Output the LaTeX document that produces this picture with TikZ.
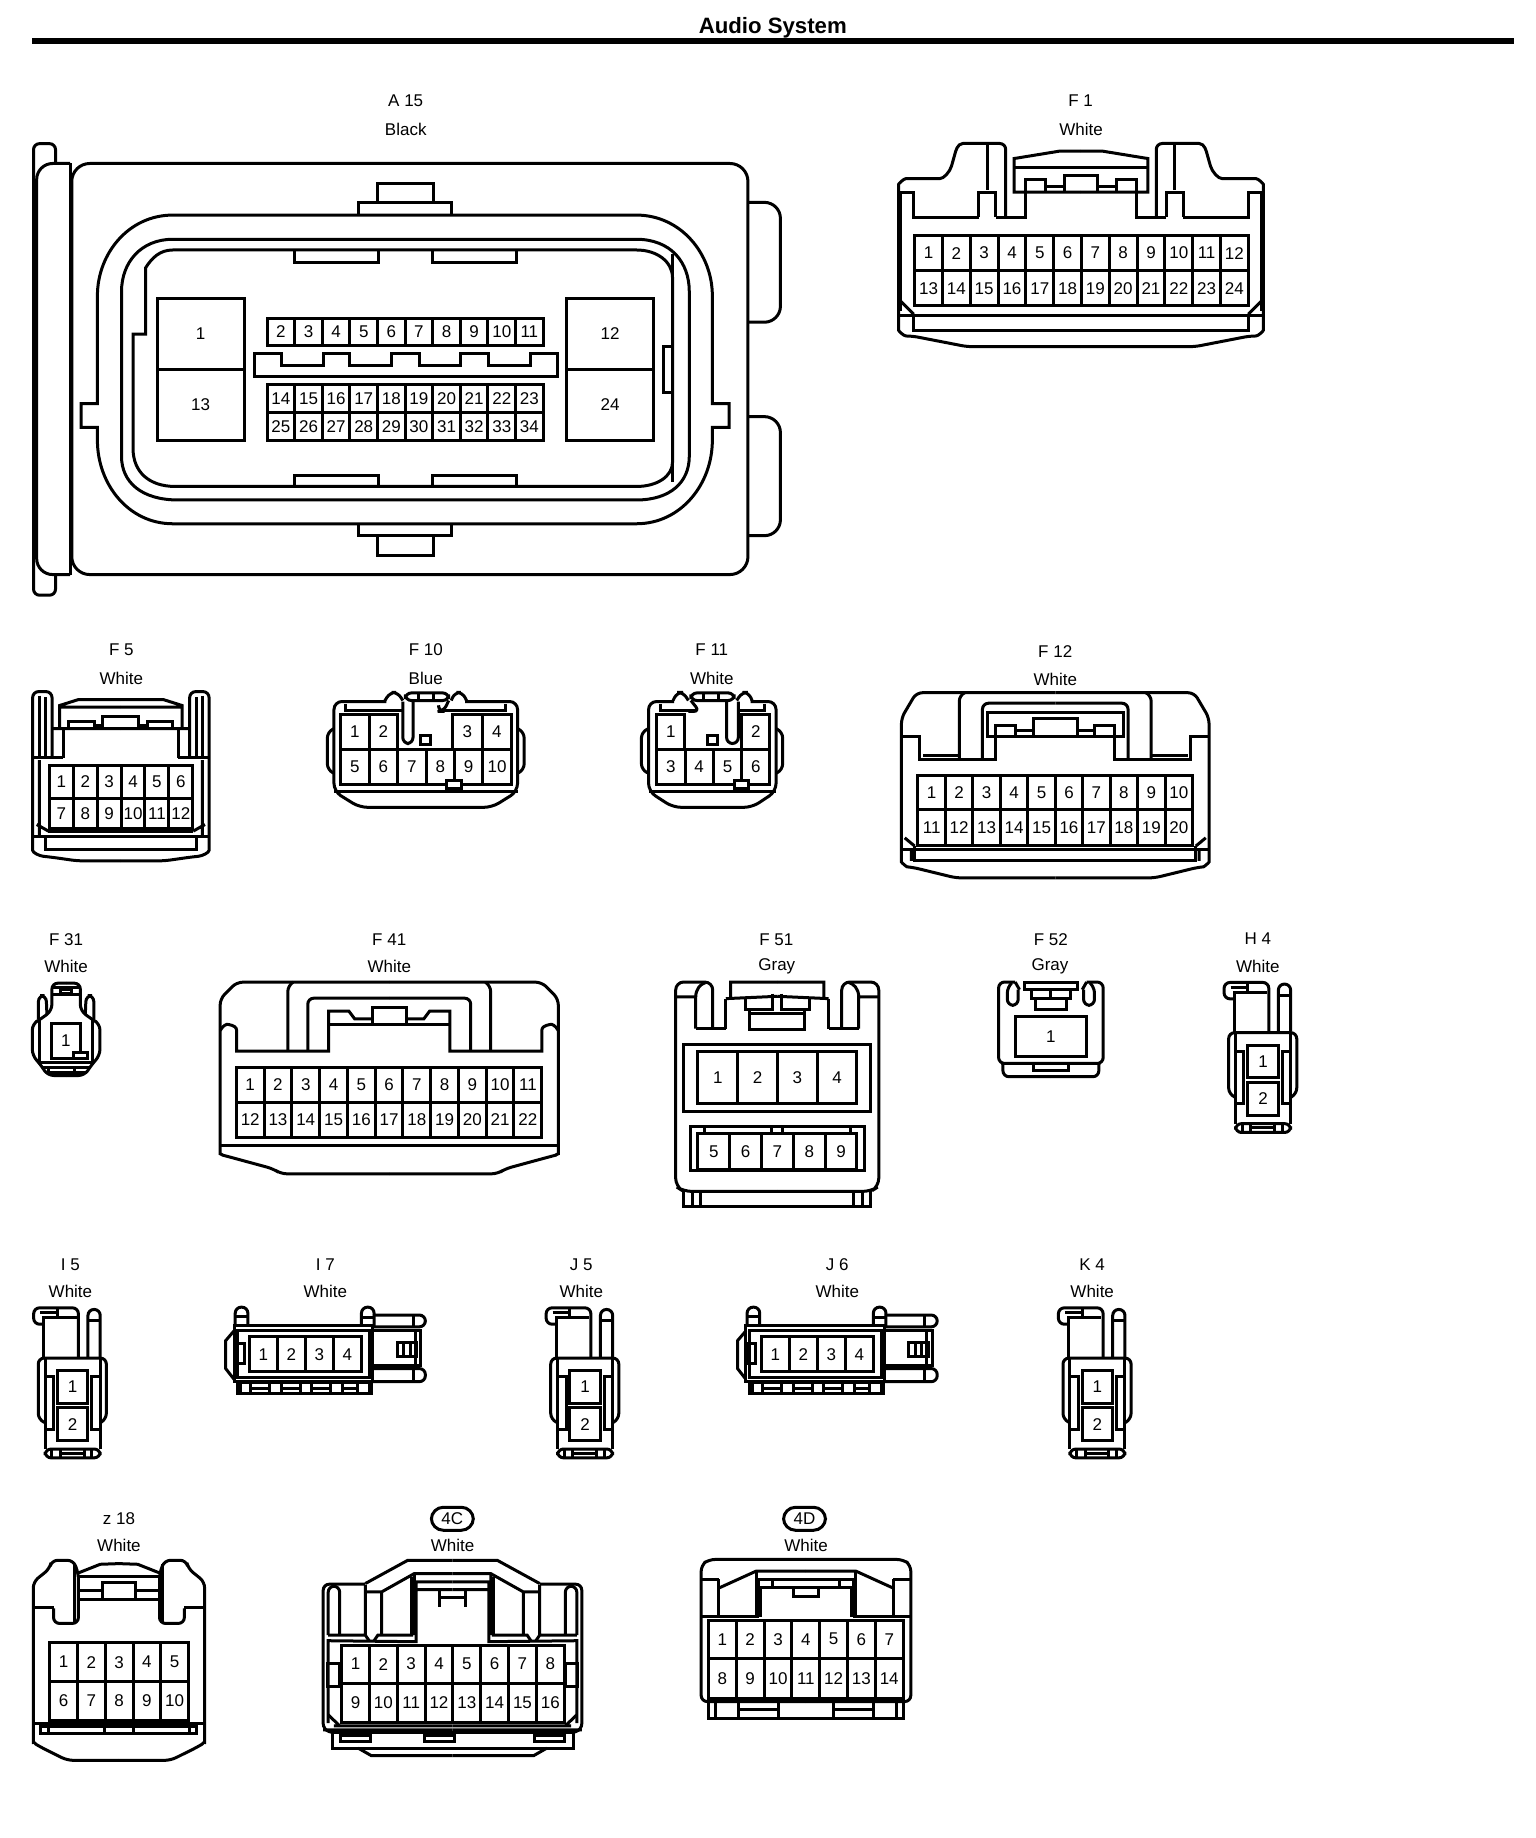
\documentclass[tikz,border=0pt]{standalone}
\usepackage{fontspec}
\setmainfont{Liberation Sans}
\tikzset{
  zm/.style n args={4}{shift={(#1,#2)},xscale=#3,yscale=#4},
  pinlabel/.style={inner sep=0pt,font=\fontsize{8.5}{10}\selectfont},
  caplabel/.style={inner sep=0pt,font=\fontsize{8.5}{10}\selectfont},
  ovalbox/.style={draw,line width=1.5pt,rounded corners=6pt,inner sep=0pt,minimum width=21pt,minimum height=11.5pt,font=\fontsize{8.5}{10}\selectfont},
  rd/.style={rounded corners=3pt},
  rdb/.style={rounded corners=8pt}
}
\newcommand\pinrow[6]{%
  \draw (#1,#3) rectangle (#2,#4);
  \foreach \k in {1,...,#5}{%
    \pgfmathsetmacro\xxa{#1+(\k-1)*(#2-#1)/#5}
    \pgfmathsetmacro\xxb{#1+\k*(#2-#1)/#5}
    \pgfmathsetmacro\xxc{(\xxa+\xxb)/2}
    \pgfmathsetmacro\yyc{(#3+#4)/2}
    \pgfmathtruncatemacro\numb{#6+\k-1}
    \draw (\xxb,#3) -- (\xxb,#4);
    \node[pinlabel] (pin\numb) at (\xxc,\yyc) {\numb};
  }%
}
\newcommand\mirr[2]{\foreach \s in {-1,1}{\begin{scope}[shift={(#1,0)},xscale=\s] #2 \end{scope}}}
\newcommand\capt[4]{\node[caplabel] (#1) at (#2,#3) {#4};}
\newcommand\twopin[2]{%
 \begin{scope}[shift={(#1,#2)}]
 \begin{scope}[zm={0}{1272}{.3856}{.331}]
  \draw[rd] (205,290)--(205,140)--(88,140)--(88,190)--(115,190);
  \draw (115,290)--(115,170)--(200,170);
  \draw (105,155)--(150,155) (150,145)--(150,165);
  \draw[rd] (230,290)--(230,145)--(262,145)--(262,290);
  \draw (232,180)--(262,180);
  \draw[rd] (118,490)--(100,480)--(100,293)--(278,293)--(278,480)--(262,490);
  \draw (118,295)--(118,570) (262,295)--(262,570);
  \draw (118,350)--(140,350)--(140,510)--(118,510);
  \draw (262,350)--(240,350)--(240,510)--(262,510);
  \draw[rd] (118,570)--(118,597)--(262,597)--(262,570)--cycle;
  \draw (135,572)--(135,595) (158,572)--(158,595) (220,572)--(220,595) (240,572)--(240,595) (160,583)--(218,583);
  \pinrow{150}{230}{332}{430}{1}{1}
  \pinrow{150}{230}{445}{545}{1}{2}
 \end{scope}\end{scope}}
\newcommand\fourpin[2]{%
 \begin{scope}[shift={(#1,#2)}]
 \begin{scope}[zm={0}{1272}{.3856}{.331}]
  \draw[rd] (615,195)--(615,138)--(648,138)--(648,195);
  \draw (615,165)--(648,165);
  \draw[rd] (945,195)--(945,138)--(978,138)--(978,195);
  \draw (945,170)--(978,170);
  \draw (612,195) rectangle (975,365);
  \draw (622,210) rectangle (967,352);
  \draw (612,210)--(590,240)--(590,325)--(612,358);
  \draw (618,250) rectangle (638,310);
  \draw (622,368) rectangle (972,402);
  \foreach \v in {630,655,705,735,785,815,865,895,935,965}{\draw (\v,368)--(\v,402);}
  \draw (655,385)--(705,385) (735,385)--(785,385) (815,385)--(865,385) (895,385)--(935,385);
  \draw[rd] (975,162)--(1112,162)--(1112,198)--(975,198);
  \draw (1080,165)--(1080,195);
  \draw[rd] (975,325)--(1112,325)--(1112,365)--(975,365);
  \draw (1080,330)--(1080,362);
  \draw (978,210)--(1100,210)--(1100,315)--(978,315);
  \draw (1038,245) rectangle (1090,288);
  \draw (1055,245)--(1055,288) (1072,245)--(1072,288) (1085,210)--(1085,315);
  \pinrow{652}{945}{228}{335}{4}{1}
 \end{scope}\end{scope}}
\begin{document}
\begin{tikzpicture}[x=0.5pt,y=-0.5pt,line width=1.5pt,miter limit=2]
\useasboundingbox (0,0) rectangle (1536,1838);
\fill[white] (0,0) rectangle (1536,1838);
\begin{scope}[scale=.992]
% title
\node[inner sep=0pt,font=\bfseries\fontsize{11.1}{13}\selectfont] (title) at (779,28) {Audio System};
\fill (32,38.3) rectangle (1526,44.3);
% A15
\capt{a15}{409}{102}{A 15}
\capt{a15c}{409}{130}{Black}
\begin{scope}[zm={0}{0}{.528}{.4}]
 \draw[rd] (106,412)--(106,362)--(64,362)--(64,1500)--(106,1500)--(106,1448);
 \draw[rdb] (134,412)--(70,412)--(70,1448)--(134,1448);
 \draw (134,412)--(134,1448);
 \draw[rounded corners=9pt] (137,412) rectangle (1428,1448);
 \draw[rdb] (1428,510)--(1490,510)--(1490,812)--(1428,812);
 \draw[rdb] (1428,1050)--(1490,1050)--(1490,1350)--(1428,1350);
 \draw (720,510)--(720,462)--(828,462)--(828,510) (684,542)--(684,510)--(862,510)--(862,542);
 \draw (720,1350)--(720,1400)--(828,1400)--(828,1350) (684,1320)--(684,1350)--(862,1350)--(862,1320);
 \draw (330,542)--(1215,542) .. controls (1300,542) and (1360,640) .. (1360,745)--(1360,1017)--(1392,1017)--(1392,1077)--(1360,1077)--(1360,1110) .. controls (1360,1220) and (1300,1320) .. (1215,1320)--(330,1320) .. controls (245,1320) and (186,1220) .. (186,1110)--(186,1077)--(155,1077)--(155,1017)--(186,1017)--(186,745) .. controls (186,640) and (245,542) .. (330,542)--cycle;
 \draw (330,603)--(1215,603) .. controls (1280,603) and (1316,660) .. (1316,735)--(1316,1150) .. controls (1316,1215) and (1280,1260) .. (1215,1260)--(340,1260) .. controls (270,1260) and (232,1215) .. (232,1150)--(232,735) .. controls (232,660) and (270,603) .. (330,603)--cycle;
 \draw (330,630)--(1215,630) .. controls (1255,630) and (1284,660) .. (1284,700)--(1284,1165) .. controls (1284,1200) and (1255,1226) .. (1215,1226)--(335,1226) .. controls (285,1226) and (254,1190) .. (254,1130)--(254,842)--(278,842)--(278,675) .. controls (290,650) and (305,630) .. (330,630)--cycle;
 \draw (1284,640)--(1284,1215);
 \draw (562,630)--(562,662)--(722,662)--(722,630) (826,630)--(826,662)--(986,662)--(986,630);
 \draw (562,1226)--(562,1198)--(722,1198)--(722,1226) (826,1226)--(826,1198)--(986,1198)--(986,1226);
 \draw (1266,872) rectangle (1284,990);
 \pinrow{300}{466}{752}{930}{1}{1}
 \pinrow{300}{466}{930}{1110}{1}{13}
 \pinrow{1082}{1248}{752}{930}{1}{12}
 \pinrow{1082}{1248}{930}{1110}{1}{24}
 \pinrow{510}{1037}{802}{870}{10}{2}
 \pinrow{510}{1037}{968}{1040}{10}{14}
 \pinrow{510}{1037}{1040}{1110}{10}{25}
 \draw (486,950)--(486,890)--(538,890)--(538,920)--(618,920)--(618,890)--(668,890)--(668,920)--(748,920)--(748,890)--(800,890)--(800,920)--(880,920)--(880,890)--(932,890)--(932,920)--(1012,920)--(1012,890)--(1064,890)--(1064,950)--cycle;
\end{scope}
% F1
\begin{scope}[zm={865.4}{80.5}{.3373}{.3375}]
 \capt{f1}{664}{63}{F 1}
 \capt{f1c}{665}{147}{White}
 \mirr{665}{
  \draw[rd] (225,410)--(225,190)--(335,190) .. controls (370,190) and (375,215) .. (382,240) .. controls (392,275) and (410,295) .. (440,295)--(505,295) .. controls (530,295) and (545,310) .. (545,330)--(545,730) .. controls (545,750) and (530,765) .. (505,765)--(340,797)--(0,797);
  \draw (280,190)--(280,330) (255,410)--(255,335)--(305,335)--(305,410);
  \draw (165,335)--(165,410)--(255,410) (305,410)--(500,410)--(500,335)--(540,335)--(540,690);
  \draw (540,660)--(500,700);
  \draw (0,705)--(545,705) (0,750)--(500,750)--(500,705);
  \draw (0,213)--(65,213)--(200,235)--(200,335)--(0,335);
  \draw (0,262)--(197,262);
  \draw (105,335)--(105,298)--(167,298)--(167,335);
  \draw (0,285)--(50,285)--(50,335) (50,320)--(105,320);
 }
 \pinrow{168}{1165}{465}{570}{12}{1}
 \pinrow{168}{1165}{570}{675}{12}{13}
\end{scope}
% zoom 3 scale
\begin{scope}[zm={0}{634.5}{.514}{.3333}]
 % F5
 \capt{f5}{238}{62}{F 5}
 \capt{f5c}{238}{148}{White}
 \mirr{237}{
  \draw[rd] (135,388)--(135,188)--(173,188)--(173,650) .. controls (173,675) and (160,685) .. (140,688)--(85,700)--(0,700);
  \draw (160,200)--(160,388) (148,205)--(148,388) (113,388)--(173,388) (113,305)--(113,388);
  \draw (0,212)--(83,212)--(120,230)--(120,300) (0,300)--(135,300) (0,235)--(118,235);
  \draw (0,262)--(35,262)--(35,298) (52,298)--(52,278)--(102,278)--(102,298) (35,290)--(52,290);
  \draw (160,395)--(160,630) (165,590)--(142,610);
  \draw (0,610)--(142,610) (0,625)--(173,625) (0,665)--(148,665)--(148,625);
 }
 \pinrow{97}{378}{412}{510}{6}{1}
 \pinrow{97}{378}{510}{603}{6}{7}
 % F10
 \capt{f10}{835}{62}{F 10}
 \capt{f10c}{835}{148}{Blue}
 \draw[rounded corners=4pt] (758,218)--(655,218)--(655,490)--(705,538)--(965,538)--(1015,490)--(1015,218)--(912,218);
 \draw (655,490)--(1015,490);
 \draw[rd] (655,300)--(642,310)--(642,425)--(655,435) (1015,300)--(1028,310)--(1028,425)--(1015,435);
 \pinrow{668}{780}{258}{362}{2}{1}
 \pinrow{888}{1003}{258}{362}{2}{3}
 \pinrow{668}{1003}{362}{470}{6}{5}
 \draw (678,225)--(678,245)--(790,245) (992,225)--(992,245)--(870,245);
 \draw[rd] (790,218)--(790,345)--(810,345)--(810,215);
 \draw[rd] (755,215)--(765,190)--(780,190)--(790,215) (885,215)--(892,190)--(907,190)--(915,215);
 \draw[rd] (795,192) rectangle (880,215);
 \draw (820,192)--(820,215) (850,192)--(850,215);
 \draw[rd] (880,215)--(870,248)--(860,248)--(860,235);
 \draw (825,322) rectangle (845,347);
 \draw[fill=white] (875,458) rectangle (905,480);
 % F11
 \capt{f11}{1396}{62}{F 11}
 \capt{f11c}{1396}{148}{White}
 \draw[rounded corners=4pt] (1322,218)--(1272,218)--(1272,490)--(1320,538)--(1475,538)--(1522,490)--(1522,218)--(1472,218);
 \draw (1272,490)--(1522,490);
 \draw[rd] (1272,300)--(1258,310)--(1258,425)--(1272,435) (1522,300)--(1535,310)--(1535,425)--(1522,435);
 \pinrow{1288}{1343}{258}{362}{1}{1}
 \pinrow{1455}{1510}{258}{362}{1}{2}
 \pinrow{1288}{1510}{362}{470}{4}{3}
 \draw (1295,225)--(1295,245)--(1365,245) (1500,225)--(1500,245)--(1448,245);
 \draw[rd] (1425,215)--(1425,345)--(1448,345)--(1448,218);
 \draw[rd] (1320,215)--(1328,190)--(1340,190)--(1350,215) (1445,215)--(1455,190)--(1468,190)--(1475,215);
 \draw[rd] (1355,192) rectangle (1440,215);
 \draw (1380,192)--(1380,215) (1410,192)--(1410,215);
 \draw[rd] (1355,215)--(1372,248)--(1350,248);
 \draw (1388,322) rectangle (1408,347);
 \draw[fill=white] (1440,458) rectangle (1468,480);
\end{scope}
% F12
\begin{scope}[zm={887}{646}{.3335}{.331}]
 \capt{f12}{530}{33}{F 12}
 \capt{f12c}{530}{116}{White}
 \mirr{530}{
  \draw[rd] (0,158)--(420,158)--(465,235)--(465,655) .. controls (465,675) and (450,688) .. (430,690)--(300,722)--(0,722);
  \draw (465,290)--(410,290)--(410,360)--(180,360)--(180,258)--(120,258)--(120,290);
  \draw (0,238)--(67,238)--(67,290) (67,272)--(120,272);
  \draw (0,218)--(205,218)--(205,290)--(0,290);
  \draw[rd] (0,190)--(220,190)--(220,360);
  \draw[rd] (283,162)--(290,165)--(290,360);
  \draw (290,350)--(400,350);
  \draw (0,635)--(465,635) (0,670)--(425,670)--(425,625);
  \draw (435,635)--(435,670) (455,600)--(425,625);
 }
 \pinrow{115}{945}{410}{515}{10}{1}
 \pinrow{115}{945}{515}{622}{10}{11}
\end{scope}
% zoom 5
\begin{scope}[zm={-1.9}{938}{.3873}{.336}]
 % F31
 \capt{f31}{177}{27}{F 31}
 \capt{f31c}{177}{108}{White}
 \mirr{177}{
  \draw[rd] (0,158)--(37,158)--(37,240)--(65,265)--(88,280)--(88,375)--(68,400)--(48,435)--(0,435);
  \draw (0,172)--(33,172) (0,192)--(33,192);
  \draw[rd] (50,250)--(52,195)--(72,195)--(72,265);
  \draw (68,265)--(68,395)--(0,395);
  \draw (0,410)--(62,410) (0,425)--(50,425);
 }
 \draw (162,178) rectangle (192,188);
 \pinrow{138}{215}{278}{383}{1}{1}
 \draw[fill=white] (195,365) rectangle (232,385);
 \draw (132,410)--(132,432) (200,410)--(200,432);
 % F41
 \capt{f41}{1018}{27}{F 41}
 \capt{f41c}{1018}{108}{White}
 \mirr{1018}{
  \draw[rd] (0,155)--(397,155)--(440,205)--(440,655) .. controls (440,668) and (430,675) .. (420,678)--(302,715)--(282,730)--(0,730);
  \draw (440,300) .. controls (432,285) and (425,280) .. (418,282) .. controls (405,285) and (397,290) .. (397,300)--(397,362)--(158,362)--(158,242)--(105,242)--(90,265)--(44,265);
  \draw (0,232)--(44,232)--(44,282) (0,282)--(158,282);
  \draw[rd] (0,203)--(212,203)--(212,362);
  \draw[rd] (250,155)--(264,165)--(264,362);
  \draw (0,645)--(440,645);
 }
 \pinrow{620}{1415}{410}{515}{11}{1}
 \pinrow{620}{1415}{515}{622}{11}{12}
\end{scope}
% zoom 6
\begin{scope}[zm={664}{938}{.4393}{.335}]
 % F51
 \capt{f51}{270}{27}{F 51}
 \capt{f51c}{271}{108}{Gray}
 \mirr{272}{
  \draw[rounded corners=4pt] (148,295)--(148,155)--(233,155)--(233,770)--(215,785)--(0,785);
  \draw (187,295)--(187,200)--(233,200) (187,200) .. controls (187,175) and (175,160) .. (165,157);
  \draw (118,295)--(187,295) (118,205)--(118,295);
  \draw (0,155)--(107,155)--(107,200) (0,198)--(118,205);
  \draw (10,190)--(10,237)--(73,237)--(73,205) (0,250)--(63,250)--(63,298)--(0,298) (63,237)--(63,250);
  \draw (215,785)--(215,830)--(0,830) (175,785)--(175,830) (195,785)--(195,830);
 }
 \draw (57,342) rectangle (487,545);
 \pinrow{90}{455}{365}{520}{4}{1}
 \draw (72,590) rectangle (472,722);
 \pinrow{90}{455}{612}{718}{5}{5}
 \draw (105,590)--(105,612) (260,590)--(260,612) (285,590)--(285,612) (440,590)--(440,612);
 % F52
 \capt{f52}{900}{27}{F 52}
 \capt{f52c}{898}{108}{Gray}
 \mirr{900}{
  \draw[rd] (82,155)--(120,155)--(120,400)--(100,400)--(0,400);
  \draw[rd] (75,178)--(75,225)--(100,225)--(100,170)--(90,158);
  \draw[rd] (82,155)--(72,178);
  \draw[rd] (110,400)--(110,440)--(0,440);
  \draw (40,405)--(40,422)--(0,422);
  \draw (0,155)--(60,155)--(60,178)--(0,178);
  \draw (45,178)--(45,205)--(0,205) (35,205)--(35,238)--(0,238) (0,178)--(0,205);
 }
 \pinrow{818}{982}{258}{380}{1}{1}
\end{scope}
% two-pin family
\twopin{1200}{-328}
\capt{h4}{1268}{946}{H 4}
\capt{h4c}{1268}{974}{White}
\twopin{0}{0}
\capt{i5}{71}{1275}{I 5}
\capt{i5c}{71}{1302}{White}
\fourpin{0}{0}
\capt{i7}{328}{1275}{I 7}
\capt{i7c}{328}{1302}{White}
\twopin{516.6}{0}
\capt{j5}{586}{1275}{J 5}
\capt{j5c}{586}{1302}{White}
\fourpin{516}{0}
\capt{j6}{844}{1275}{J 6}
\capt{j6c}{844}{1302}{White}
\twopin{1033}{0}
\capt{k4}{1101}{1275}{K 4}
\capt{k4c}{1101}{1302}{White}
% zoom 9
\begin{scope}[zm={0}{1522.6}{.3856}{.335}]
 % z18
 \capt{z18}{311}{25}{z 18}
 \capt{z18c}{311}{106}{White}
 \mirr{311}{
  \draw[rd] (171,295)--(171,340)--(106,340)--(106,190)--(119,150)--(176,150)--(181,175)--(224,215)--(224,680) .. controls (224,695) and (215,705) .. (205,712)--(135,752)--(0,752);
  \draw (115,160)--(115,340);
  \draw (171,292)--(224,292);
  \draw (106,188)--(49,162)--(0,160);
  \draw (0,200)--(106,200) (0,218)--(44,218)--(44,265) (44,240)--(106,240) (0,267)--(106,267);
  \draw (0,640)--(224,640) (0,650)--(204,650)--(204,672)--(0,672) (185,650)--(185,672) (38,650)--(38,672);
 }
 \pinrow{130}{493}{398}{515}{5}{1}
 \pinrow{130}{493}{515}{632}{5}{6}
 % 4C
 \capt{c4c}{1183}{106}{White}
 \mirr{1183}{
  \draw (0,150)--(117,150)--(228,220);
  \draw[rd] (228,222)--(338,222)--(338,660)--(315,668);
  \draw (0,190)--(100,190)--(185,245)--(228,245);
  \draw (100,190)--(100,375) (107,200)--(107,375)--(195,375)--(205,392);
  \draw (0,215)--(95,215)--(95,395)--(325,392)--(325,640) (0,238)--(95,238);
  \draw (33,240)--(33,290) (0,262)--(33,262);
  \draw (185,245)--(185,375) (228,225)--(228,375)--(218,392) (228,375)--(325,375);
  \draw[rd] (295,375)--(295,228)--(325,228)--(325,375);
  \draw (295,460) rectangle (327,530);
  \draw (0,648)--(310,648) (325,615)--(295,648) (0,660)--(338,660);
  \draw (0,668)--(315,668)--(315,715)--(0,715);
  \draw (247,715)--(212,738)--(0,738);
  \draw (215,678) rectangle (292,695);
 }
 \draw (1110,678) rectangle (1188,695);
 \pinrow{893}{1475}{405}{520}{8}{1}
 \pinrow{893}{1475}{520}{637}{8}{9}
\end{scope}
\node[ovalbox] (c4) at (456,1531) {4C};
% 4D
\begin{scope}[zm={685.7}{1522.4}{.3354}{.3354}]
 \capt{d4c}{378}{105}{White}
 \mirr{378}{
  \draw[rd] (0,148)--(292,148)--(315,165)--(315,575)--(0,575);
  \draw (0,183)--(150,183)--(260,233);
  \draw (262,208)--(315,208) (262,208)--(262,318) (150,183)--(150,318) (140,318)--(315,318);
  \draw (0,208)--(142,208)--(142,322) (0,232)--(137,232)--(137,322) (100,210)--(100,230);
  \draw (38,235)--(38,258)--(0,258);
  \draw (292,575)--(292,625)--(0,625) (272,575)--(272,625) (82,578)--(82,622) (204,578)--(204,622) (82,600)--(204,600);
 }
 \pinrow{85}{670}{330}{445}{7}{1}
 \pinrow{85}{670}{445}{565}{7}{8}
\end{scope}
\node[ovalbox] (d4) at (811,1531) {4D};
\end{scope}
\end{tikzpicture}
\end{document}
